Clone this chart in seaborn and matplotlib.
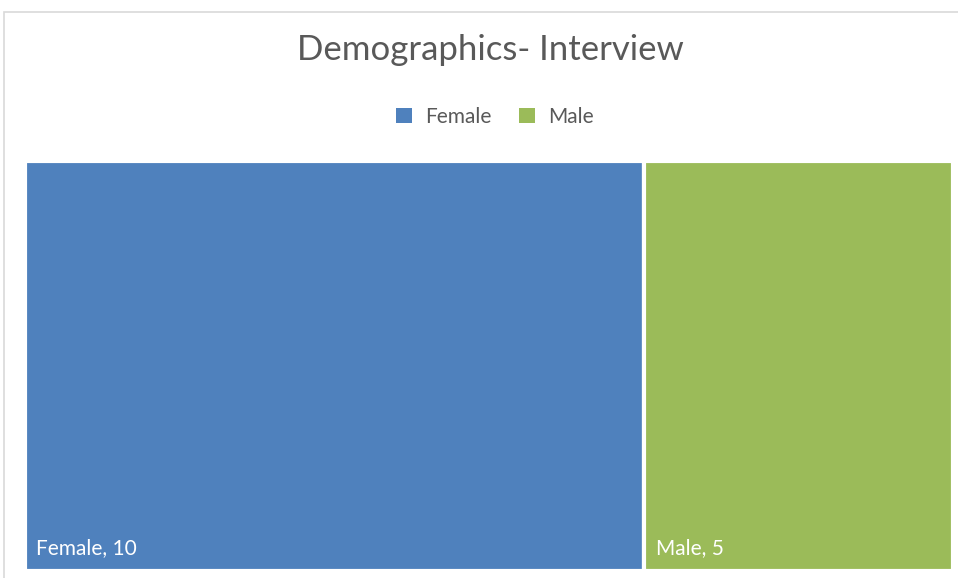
import matplotlib
matplotlib.use("Agg")
import matplotlib.pyplot as plt
from matplotlib.patches import Rectangle, Patch
import numpy as np
import seaborn as sns

# Interview demographics
categories = ["Female", "Male"]
counts = [10, 5]
colors = ["#4F81BD", "#9BBB59"]
title = "Demographics- Interview"

sns.set_theme(style="white")
plt.rcParams["font.family"] = ["Lato", "DejaVu Sans"]

W, H = 958, 578
fig = plt.figure(figsize=(W / 100, H / 100), dpi=100)
fig.patch.set_facecolor("white")

# outer chart frame
fig.add_artist(Rectangle((4 / W, -0.1), 1.2, (H - 12) / H + 0.1,
                         transform=fig.transFigure, fill=False,
                         edgecolor="#D9D9D9", linewidth=1.2))

# plot area holding the treemap tiles (white tile borders eat ~1.5px per side)
ax = fig.add_axes([24.5 / W, (H - 570.5) / H, (953.5 - 24.5) / W, (570.5 - 160.5) / H])
total = float(np.sum(counts))
lefts = np.concatenate([[0], np.cumsum(counts)[:-1]])
ax.bar(lefts, [1] * len(counts), width=counts, align="edge",
       color=colors, edgecolor="white", linewidth=3)
ax.set_xlim(0, total)
ax.set_ylim(0, 1)
ax.axis("off")

for left, cat, val in zip(lefts, categories, counts):
    ax.annotate(f"{cat}, {val}", xy=(left, 0), xytext=(8.5, 9),
                textcoords="offset points", color="white", fontsize=15,
                ha="left", va="bottom")

fig.text(490 / W, 1 - 50 / H, title, ha="center", va="center",
         fontsize=25, color="#595959")

handles = [Patch(facecolor=c, edgecolor="none") for c in colors]
fig.legend(handles, categories, loc="center", bbox_to_anchor=(495 / W, 1 - 117 / H),
           ncol=2, frameon=False, fontsize=15, labelcolor="#595959",
           handlelength=0.75, handleheight=0.75, handletextpad=0.65,
           columnspacing=1.3)

fig.savefig("out.png", dpi=100, facecolor="white")
